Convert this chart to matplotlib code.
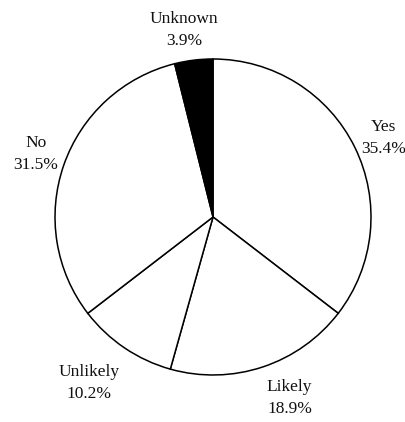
import numpy as np
import matplotlib.pyplot as plt

labels = ['Yes', 'Likely', 'Unlikely', 'No', 'Unknown']
shares = [35.4, 18.9, 10.2, 31.5, 3.9]
colors = ['white', 'white', 'white', 'white', 'black']

# label placement: radius factor and angle nudge (deg) per slice
label_dist = [1.19, 1.245, 1.31, 1.19, 1.2]
label_nudge = [-1.4, 4.5, -2.7, -0.3, 1.8]

plt.rcParams['font.family'] = ['Liberation Serif', 'DejaVu Serif']

f1 = plt.figure(figsize=(4.06, 4.22), dpi=100, facecolor='w')
ax = f1.add_axes([0.1355, 0.1114, 0.7783, 0.7488])

texts = ['%s\n%.1f%%' % (l, s) for l, s in zip(labels, shares)]
wedges, lbls = ax.pie(shares, labels=texts, colors=colors, startangle=90,
                      counterclock=False,
                      wedgeprops=dict(edgecolor='black', linewidth=1.1),
                      textprops=dict(fontsize=12.5, color='#111111'))
for w, t, d, n in zip(wedges, lbls, label_dist, label_nudge):
    a = np.deg2rad((w.theta1 + w.theta2) / 2 + n)
    t.set_position((d * np.cos(a), d * np.sin(a)))
    t.set_ha('center')
    t.set_va('center')
    t.set_linespacing(1.5)

ax.set_xlim(-1, 1)
ax.set_ylim(-1, 1)
ax.set_aspect('auto')

f1.savefig('out.png', dpi=100)
